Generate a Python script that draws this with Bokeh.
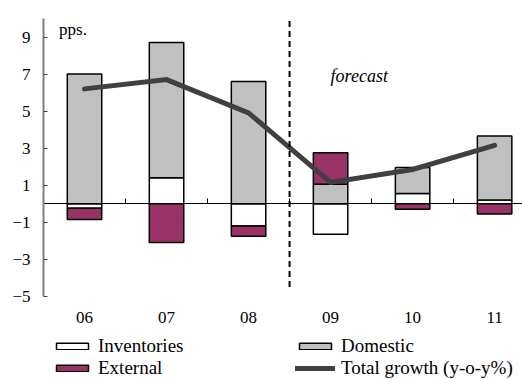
import numpy as np
from bokeh.plotting import figure
from bokeh.models import (ColumnDataSource, Legend, LegendItem, FixedTicker,
                          LinearAxis)
from bokeh.embed import file_html
from bokeh.resources import INLINE
from bokeh.core.properties import value

# ---- data ----
years = ["06", "07", "08", "09", "10", "11"]
inventories = [-0.25, 1.4, -1.2, -1.65, 0.55, 0.2]
domestic = [7.0, 7.3, 6.6, 1.05, 1.4, 3.45]
external = [-0.6, -2.1, -0.55, 1.7, -0.3, -0.55]
total_growth = [6.2, 6.7, 4.9, 1.15, 1.85, 3.15]
y_ticks = [-5, -3, -1, 1, 3, 5, 7, 9]
forecast_start = 2.5  # between 08 and 09

SERIF = "'Liberation Serif', 'Times New Roman', Times, 'DejaVu Serif', serif"
x = np.arange(len(years))
Y_MIN, Y_MAX = -5, 10

series = [("Inventories", inventories, "#FFFFFF"),
          ("Domestic", domestic, "#C0C0C0"),
          ("External", external, "#993366")]
pos_base = np.zeros(len(years))
neg_base = np.zeros(len(years))

p = figure(width=522, height=379, x_range=(-0.5, 5.34), y_range=(-9.49, Y_MAX),
           output_backend="svg", toolbar_location=None, x_axis_location=None,
           min_border_left=43, min_border_top=18, min_border_right=0,
           min_border_bottom=0)
p.outline_line_color = None
p.xgrid.grid_line_color = None
p.ygrid.grid_line_color = None

renderers = {}
for name, vals, color in series:
    v = np.array(vals, dtype=float)
    bottom = np.where(v >= 0, pos_base, neg_base)
    top = bottom + v
    pos_base = np.where(v >= 0, top, pos_base)
    neg_base = np.where(v < 0, top, neg_base)
    src = ColumnDataSource(dict(x=x, bottom=bottom, top=top))
    r = p.vbar(x="x", bottom="bottom", top="top", width=0.42, source=src,
               fill_color=color, line_color="black", line_width=1.5)
    renderers[name] = r

line_r = p.line(x, total_growth, line_width=5, line_color="#404040",
                line_cap="round", line_join="miter")

p.segment(x0=[forecast_start], y0=[-4.5], x1=[forecast_start], y1=[Y_MAX],
          line_color="black", line_width=2, line_dash="6 4")

p.text(x=[3.0], y=[6.9], text=["forecast"], text_font=value(SERIF),
       text_font_style="italic", text_font_size="18px", text_color="black",
       text_align="left", text_baseline="alphabetic")
p.text(x=[-0.31], y=[9.38], text=["pps."], text_font=value(SERIF),
       text_font_size="17px", text_color="black",
       text_align="left", text_baseline="alphabetic")

# y axis
p.yaxis.bounds = (Y_MIN, Y_MAX)
p.yaxis.ticker = FixedTicker(ticks=y_ticks)
p.yaxis.axis_line_color = "#808080"
p.yaxis.axis_line_width = 2
p.yaxis.major_tick_in = 4
p.yaxis.major_tick_out = 0
p.yaxis.major_tick_line_color = "#404040"
p.yaxis.minor_tick_line_color = None
p.yaxis.major_label_standoff = 13
p.yaxis.major_label_text_font = SERIF
p.yaxis.major_label_text_font_size = "17px"
p.yaxis.major_label_text_color = "black"

# zero line with category-boundary ticks
zero_axis = LinearAxis(fixed_location=0,
                       ticker=FixedTicker(ticks=list(x[:-1] + 0.5)))
zero_axis.axis_line_color = "black"
zero_axis.axis_line_width = 1
zero_axis.major_tick_in = 5
zero_axis.major_tick_out = 0
zero_axis.major_tick_line_color = "black"
zero_axis.minor_tick_line_color = None
zero_axis.major_label_text_font_size = "0px"
zero_axis.major_label_text_alpha = 0
p.add_layout(zero_axis, "below")

# category labels at the bottom of the plot area
cat_axis = LinearAxis(fixed_location=Y_MIN, ticker=FixedTicker(ticks=list(x)))
cat_axis.major_label_overrides = {int(i): years[i] for i in x}
cat_axis.axis_line_color = None
cat_axis.major_tick_line_color = None
cat_axis.minor_tick_line_color = None
cat_axis.major_label_standoff = 10
cat_axis.major_label_text_font = SERIF
cat_axis.major_label_text_font_size = "17px"
cat_axis.major_label_text_color = "black"
p.add_layout(cat_axis, "below")

legend = Legend(items=[
    LegendItem(label="Inventories", renderers=[renderers["Inventories"]]),
    LegendItem(label="External", renderers=[renderers["External"]]),
    LegendItem(label="Domestic", renderers=[renderers["Domestic"]]),
    LegendItem(label="Total growth (y-o-y%)", renderers=[line_r]),
], orientation="vertical", ncols=2, location=(9, 0))
legend.border_line_color = None
legend.background_fill_alpha = 0
legend.margin = 0
legend.padding = 0
legend.spacing = 0
legend.glyph_width = 40
legend.glyph_height = 8
legend.label_height = 20
legend.label_width = 197
legend.label_standoff = 6
legend.label_text_font = SERIF
legend.label_text_font_size = "19px"
legend.label_text_color = "black"
legend.label_text_baseline = "middle"
p.add_layout(legend)

open("out.html", "w").write(file_html(p, INLINE))
